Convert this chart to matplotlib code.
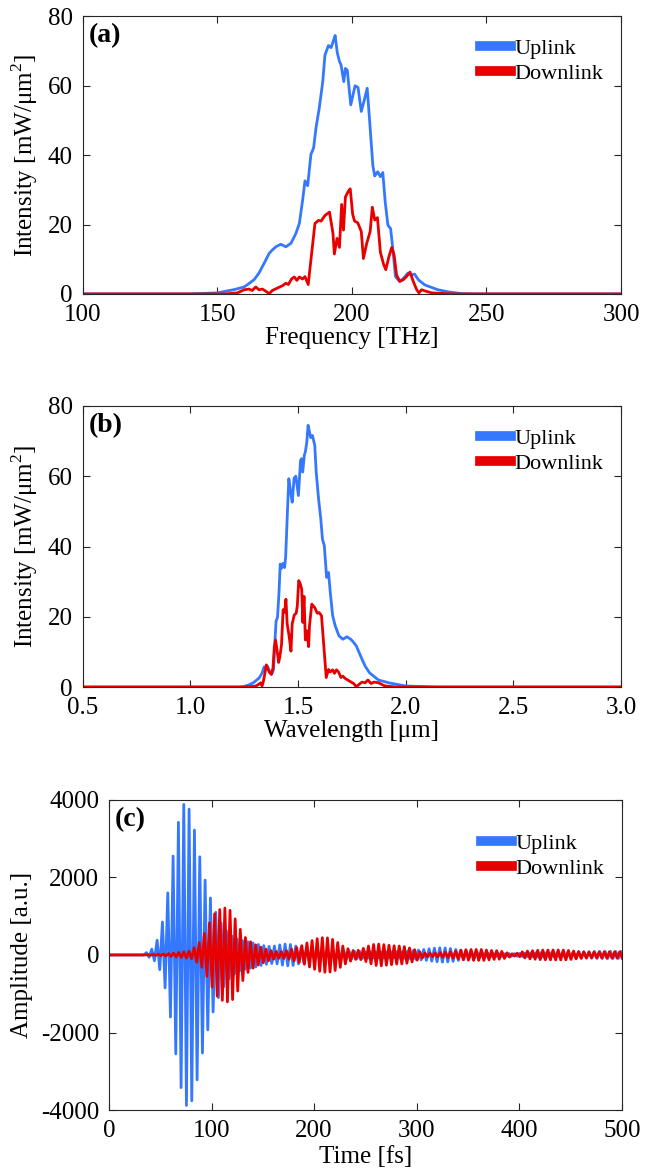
import numpy as np
import matplotlib
matplotlib.use('Agg')
import matplotlib.pyplot as plt
from matplotlib.lines import Line2D
from matplotlib.ticker import FormatStrFormatter

# spectrum: frequency [THz] -> intensity [mW/um^2]
UP_FREQ = [100, 140, 150, 156, 160, 161.8, 163.7, 165.5, 167.4, 169.3, 170.5, 171.8,
           173.6, 175.5, 177.4, 179.2, 180.5, 181.7, 182.6, 183.6, 184.8, 185.8, 186.7,
           187.9, 189.2, 190.0, 191.3, 192.3, 193.2, 193.8, 194.6, 195.4, 196.0, 197.0,
           197.6, 198.3, 199.6, 201.2, 202.3, 203.5, 204.6, 205.7, 206.6, 207.8, 208.5,
           209.6, 210.6, 211.5, 212.4, 213.4, 214.4, 215.2, 216.2, 217.7, 219.3, 220.8,
           222.1, 223.3, 224.8, 227.1, 229.5, 232.0, 235.7, 240.7, 245, 600]
UP_INT = [0, 0, 0.3, 1.2, 2.0, 3.0, 4.1, 6.0, 8.8, 11.7, 12.7, 13.6,
          14.3, 13.6, 14.6, 17.4, 20.3, 26.9, 32.6, 31.2, 40.2, 42.1, 47.9,
          53.6, 61.2, 68.8, 71.6, 71.0, 73.1, 74.5, 69.5, 67.0, 66.0, 61.2,
          65.0, 64.5, 54.5, 60.0, 59.5, 52.6, 55.8, 59.3, 50.0, 37.0, 34.0,
          35.2, 33.8, 35.0, 26.4, 19.8, 18.8, 13.1, 5.0, 3.6, 4.6, 6.0,
          5.5, 5.7, 4.0, 2.6, 1.9, 1.2, 0.6, 0.1, 0, 0]

DOWN_FREQ = [100, 153, 157.5, 160, 161.8, 163, 164.3, 165.5, 166.8, 168, 169.3, 170.5,
             172.4, 174.3, 175.5, 176.4, 177.6, 178.6, 179.6, 180.5, 181.7, 182.6, 183.8,
             184.8, 186.3, 187.6, 188.6, 190.0, 191.7, 193.0, 193.5, 194.5, 195.4, 196.2,
             196.9, 197.6, 198.6, 199.4, 200.3, 201.0, 202.2, 203.5, 204.3, 205.5, 206.8,
             207.6, 208.5, 209.5, 210.6, 211.8, 212.6, 213.8, 214.8, 215.7, 216.6, 217.8,
             219.1, 220.3, 221.6, 222.8, 224.1, 224.9, 225.9, 227.8, 229.7, 234.7, 238, 600]
DOWN_INT = [0, 0, 0.3, 1.2, 1.4, 1.0, 2.0, 1.2, 1.4, 0.8, 0.1, 1.0,
            1.7, 2.4, 3.1, 2.7, 4.3, 4.9, 3.9, 4.9, 4.3, 5.0, 2.7,
            9.8, 20.3, 21.2, 21.0, 22.6, 23.6, 17.4, 11.5, 16.0, 13.4, 25.8,
            18.4, 27.9, 29.5, 30.3, 23.0, 21.0, 20.5, 18.0, 10.2, 14.5, 18.0,
            25.0, 21.3, 22.0, 12.0, 8.5, 7.0, 10.8, 13.4, 11.2, 5.5, 3.6,
            4.1, 5.0, 6.3, 3.6, 1.2, 0.3, 1.2, 0.7, 0.3, 0.1, 0, 0]

C_UM_THZ = 299.792458  # lambda [um] = c / f [THz]

# time traces of panel (c): one amplitude per optical cycle
UP_T0, UP_PERIOD = 36.5, 5.2
UP_AMP = [60, 150, 380, 850, 1600, 2550, 3420, 3880, 3760, 3220, 2530, 1930, 1470, 1100,
          820, 620, 490, 410, 370, 340, 310, 270, 240, 220, 230, 260, 280, 270, 230, 190,
          160, 140, 130, 120, 115, 110, 110, 105, 100, 95, 90, 85, 80, 80, 80, 80, 80, 85,
          90, 100, 110, 125, 140, 160, 175, 185, 180, 165, 140, 115, 95, 80, 70, 60, 50,
          45, 40, 35, 35, 35, 40, 45, 50, 55, 60, 60, 60, 60, 60, 65, 70, 75, 80, 85, 90,
          90, 90, 90, 90, 90]
DOWN_T0, DOWN_PERIOD = 38.0, 5.0
DOWN_AMP = [8, 12, 18, 25, 35, 50, 65, 80, 100, 187, 320, 555, 830, 1060, 1170, 1210,
            1150, 930, 660, 450, 340, 260, 200, 150, 110, 90, 90, 110, 150, 190, 240, 310,
            370, 420, 445, 440, 400, 320, 230, 160, 115, 120, 170, 230, 270, 280, 265, 250,
            235, 230, 215, 180, 135, 80, 50, 45, 50, 60, 70, 85, 100, 125, 135, 140, 140,
            140, 125, 115, 110, 90, 55, 30, 45, 80, 100, 110, 120, 125, 125, 128, 128, 125,
            115, 100, 90, 80, 75, 75, 80, 85, 85, 85, 85]

LABELS = ['Uplink', 'Downlink']
BLUE = '#3478FF'
RED = '#E80000'

plt.rcParams['font.family'] = ['Liberation Serif', 'DejaVu Serif']
plt.rcParams['mathtext.fontset'] = 'custom'
plt.rcParams['mathtext.rm'] = 'Liberation Serif'
plt.rcParams['axes.unicode_minus'] = False


def cycle_trace(t0, period, amp):
    # zig-zag through the read peaks (+) and troughs (-) of each cycle
    amp = np.asarray(amp, float)
    tp = t0 + period * np.arange(len(amp))
    t = np.column_stack([tp, tp + period / 2]).ravel()
    v = np.column_stack([amp, -amp]).ravel()
    t = np.concatenate([[0, t0 - period / 2], t])
    v = np.concatenate([[0, 0], v])
    return t, v


def style_axes(ax, tag, leg_y=0.985):
    for s in ax.spines.values():
        s.set_linewidth(0.8)
        s.set_color('#262626')
    ax.tick_params(direction='in', top=True, right=True, length=5, width=0.8,
                   labelsize=18, pad=7, colors='#262626', labelcolor='black')
    ax.text(0.012, 0.975, tag, transform=ax.transAxes, fontsize=20,
            fontweight='bold', va='top', ha='left')
    handles = [Line2D([], [], color=BLUE, lw=7), Line2D([], [], color=RED, lw=7)]
    ax.legend(handles, LABELS, loc='upper right', frameon=False, fontsize=16,
              handlelength=1.4, handletextpad=0.15, labelspacing=0.2,
              borderaxespad=0.4, bbox_to_anchor=(1.0, leg_y))


fig = plt.figure(figsize=(6.45, 11.71), dpi=100)

# (a) frequency
ax1 = fig.add_axes([0.128, 0.749, 0.835, 0.237])
ax1.plot(UP_FREQ, UP_INT, color=BLUE, lw=2.0)
ax1.plot(DOWN_FREQ, DOWN_INT, color=RED, lw=2.0)
ax1.set_xlim(100, 300)
ax1.set_ylim(0, 80)
ax1.set_xticks([100, 150, 200, 250, 300])
ax1.set_yticks([0, 20, 40, 60, 80])
ax1.set_xlabel('Frequency [THz]', fontsize=18, labelpad=1)
ax1.set_ylabel(r'Intensity [mW/μm$^{\mathrm{2}}$]', fontsize=18, labelpad=6)
style_axes(ax1, '(a)')

# (b) wavelength
ax2 = fig.add_axes([0.128, 0.4133, 0.835, 0.2400])
ax2.plot(C_UM_THZ / np.array(UP_FREQ), UP_INT, color=BLUE, lw=2.0)
ax2.plot(C_UM_THZ / np.array(DOWN_FREQ), DOWN_INT, color=RED, lw=2.0)
ax2.set_xlim(0.5, 3.0)
ax2.set_ylim(0, 80)
ax2.set_xticks([0.5, 1.0, 1.5, 2.0, 2.5, 3.0])
ax2.xaxis.set_major_formatter(FormatStrFormatter('%.1f'))
ax2.set_yticks([0, 20, 40, 60, 80])
ax2.set_xlabel('Wavelength [μm]', fontsize=18, labelpad=1)
ax2.set_ylabel(r'Intensity [mW/μm$^{\mathrm{2}}$]', fontsize=18, labelpad=6)
style_axes(ax2, '(b)')

# (c) time
ax3 = fig.add_axes([0.169, 0.052, 0.795, 0.265])
tu, vu = cycle_trace(UP_T0, UP_PERIOD, UP_AMP)
td, vd = cycle_trace(DOWN_T0, DOWN_PERIOD, DOWN_AMP)
ax3.plot(tu, vu, color=BLUE, lw=2.0)
ax3.plot(td, vd, color=RED, lw=2.0)
ax3.set_xlim(0, 500)
ax3.set_ylim(-4000, 4000)
ax3.set_xticks([0, 100, 200, 300, 400, 500])
ax3.set_yticks([-4000, -2000, 0, 2000, 4000])
ax3.set_xlabel('Time [fs]', fontsize=18, labelpad=3)
ax3.set_ylabel('Amplitude [a.u.]', fontsize=18, labelpad=6)
style_axes(ax3, '(c)', leg_y=0.95)

fig.savefig('out.png', dpi=100)
